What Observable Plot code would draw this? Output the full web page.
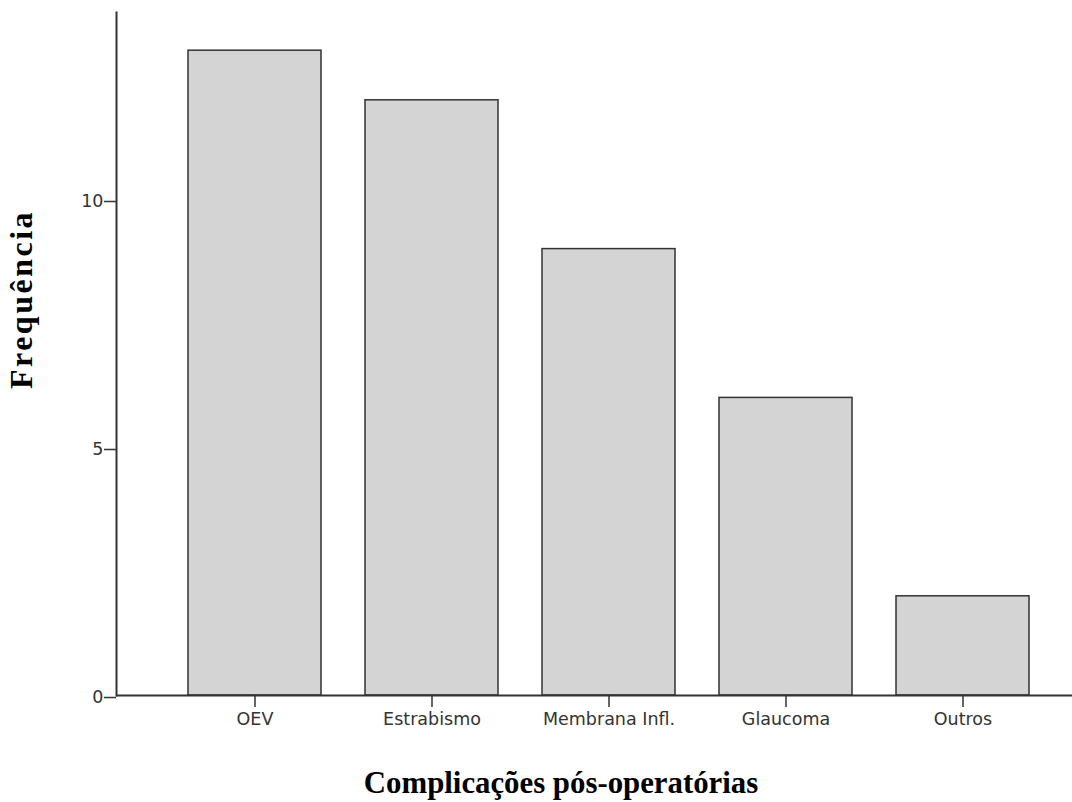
<!DOCTYPE html>
<html>
<head>
<meta charset="utf-8">
<script src="https://cdn.jsdelivr.net/npm/d3@7"></script>
<script src="https://cdn.jsdelivr.net/npm/@observablehq/plot@0.6"></script>
<style>
  html, body { margin: 0; padding: 0; background: white; }
</style>
</head>
<body>
<div id="chart"></div>
<script>
const categories = ["OEV", "Estrabismo", "Membrana Infl.", "Glaucoma", "Outros"];
const frequencies = [13, 12, 9, 6, 2];
const yTicks = [0, 5, 10];
const xTitle = "Complicações pós-operatórias";
const yTitle = "Frequência";

const data = categories.map((c, i) => ({category: c, value: frequencies[i]}));

const chart = Plot.plot({
  width: 1072,
  height: 802,
  marginLeft: 116,
  marginRight: 0,
  marginTop: 12,
  marginBottom: 107,
  style: {fontFamily: "DejaVu Sans", fontSize: "17.5px", color: "#333", background: "white"},
  x: {domain: categories, range: [187, 1030.3], paddingInner: 0.247, paddingOuter: 0, label: null},
  y: {domain: [0, 13.77], label: null},
  marks: [
    Plot.barY(data, {x: "category", y: "value", fill: "#d4d4d4", stroke: "#333", strokeWidth: 1.5}),
    Plot.frame({anchor: "left", stroke: "#333", strokeWidth: 2}),
    Plot.ruleY([0], {stroke: "#333", strokeWidth: 2}),
    Plot.axisY({ticks: yTicks, tickSize: 12, tickPadding: 1, tickFormat: d => String(d), label: null, strokeWidth: 1.5, dy: 2}),
    Plot.axisX({tickSize: 12, tickPadding: 5, label: null, strokeWidth: 1.5}),
    Plot.text([xTitle], {frameAnchor: "bottom", dx: -33.5, dy: 97, fontFamily: "Liberation Serif", fontWeight: "bold", fontSize: 30.8, fill: "black", textAnchor: "middle"}),
    Plot.text([yTitle], {frameAnchor: "left", dx: -95, dy: -54.5, rotate: -90, fontFamily: "Liberation Serif", fontWeight: "bold", fontSize: 32, fill: "black", textAnchor: "middle"})
  ]
});
document.getElementById("chart").appendChild(chart);
// slight letter spacing on the rotated title to match its length
d3.select(chart).selectAll("text").filter(function() { return this.textContent === yTitle; }).style("letter-spacing", "2.5px");
</script>
</body>
</html>
